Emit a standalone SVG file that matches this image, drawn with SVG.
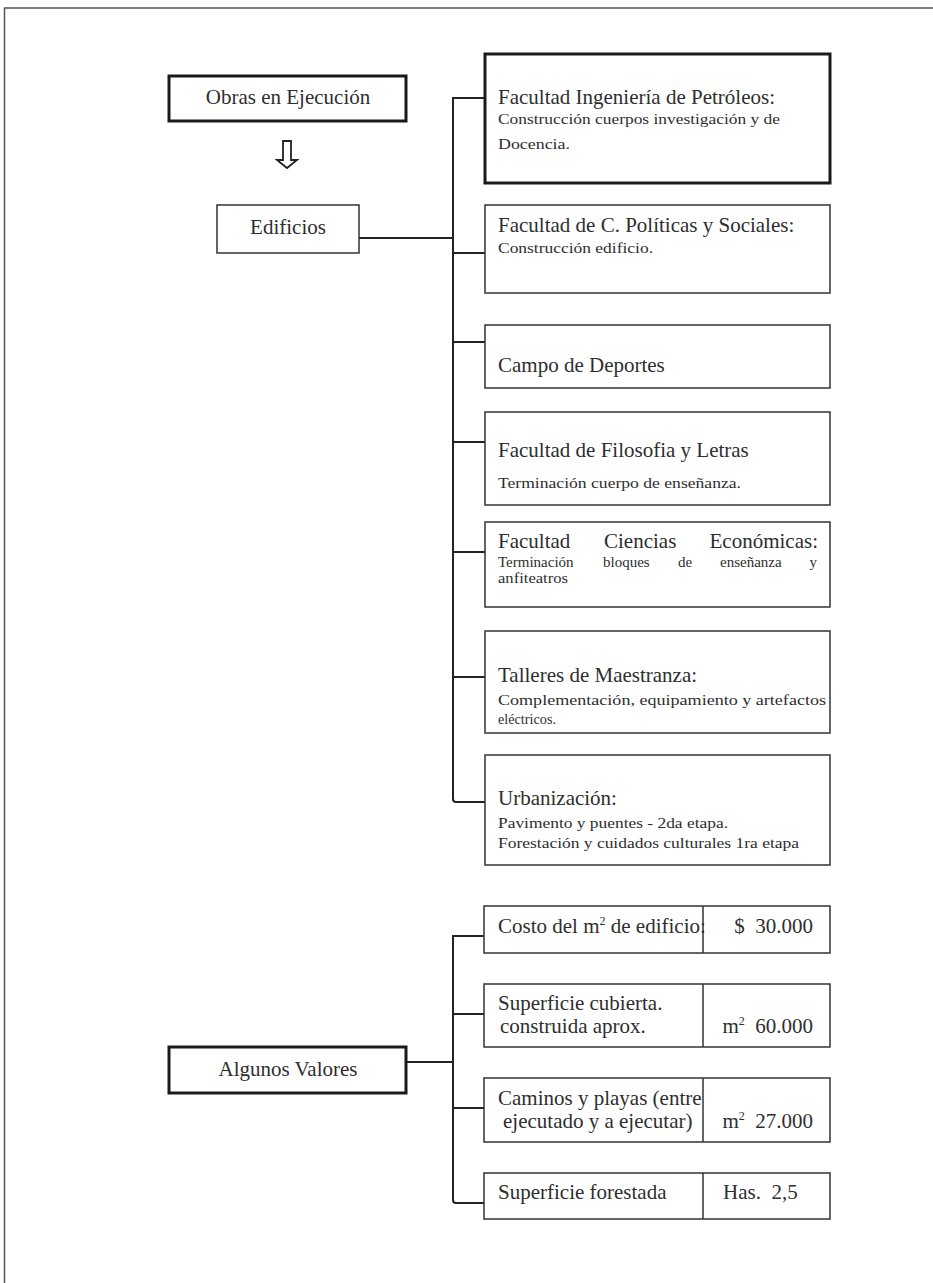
<svg xmlns="http://www.w3.org/2000/svg" width="933" height="1283" viewBox="0 0 933 1283" xml:space="preserve">
<style>
.t{font-family:"Liberation Serif","Times New Roman",serif;fill:#2e2e2e;white-space:pre}
.b{font-size:21px}
.s{font-size:15px}
.box{fill:#fff;stroke:#333;stroke-width:1.5}
.thick{fill:#fff;stroke:#1a1a1a;stroke-width:3}
.c{fill:none;stroke:#222;stroke-width:2}
.sup{font-size:12px}
</style>
<rect width="933" height="1283" fill="#fff"/>
<path d="M4.5 1283 V8 H933" fill="none" stroke="#555" stroke-width="1.5"/>

<g id="connectors">
<path class="c" d="M359 238 H453"/>
<path class="c" d="M485 98 H453 V799 Q453 802 456 802 H485"/>
<path class="c" d="M453 253 H485 M453 342 H485 M453 442 H485 M453 552 H485 M453 677 H485"/>
<path class="c" d="M407 1062 H453"/>
<path class="c" d="M484 936 H453 V1200 Q453 1203 456 1203 H484"/>
<path class="c" d="M453 1014 H484 M453 1108 H484"/>
</g>

<g id="obras">
<rect class="thick" x="169" y="76" width="237" height="45"/>
<text class="t b" x="288" y="104" text-anchor="middle">Obras en Ejecución</text>
</g>

<g id="arrow">
<path d="M283 141 H291 V160 H297 L287 168 L277 160 H283 Z" fill="#fff" stroke="#222" stroke-width="1.8"/>
</g>

<g id="edificios">
<rect class="box" x="217" y="205" width="142" height="48"/>
<text class="t b" x="288" y="234" text-anchor="middle">Edificios</text>
</g>

<g id="petroleos">
<rect class="thick" x="485" y="54" width="345" height="129"/>
<text class="t b" x="498" y="104">Facultad Ingeniería de Petróleos:</text>
<text class="t s" x="498" y="124" textLength="282" lengthAdjust="spacingAndGlyphs">Construcción cuerpos investigación y de</text>
<text class="t s" x="498" y="149" textLength="72" lengthAdjust="spacingAndGlyphs">Docencia.</text>
</g>

<g id="politicas">
<rect class="box" x="485" y="205" width="345" height="88"/>
<text class="t b" x="498" y="232">Facultad de C. Políticas y Sociales:</text>
<text class="t s" x="498" y="253" textLength="155" lengthAdjust="spacingAndGlyphs">Construcción edificio.</text>
</g>

<g id="deportes">
<rect class="box" x="485" y="325" width="345" height="63"/>
<text class="t b" x="498" y="372">Campo de Deportes</text>
</g>

<g id="filosofia">
<rect class="box" x="485" y="412" width="345" height="93"/>
<text class="t b" x="498" y="457">Facultad de Filosofia y Letras</text>
<text class="t s" x="498" y="488" textLength="243" lengthAdjust="spacingAndGlyphs">Terminación cuerpo de enseñanza.</text>
</g>

<g id="economicas">
<rect class="box" x="485" y="522" width="345" height="85"/>
<text class="t b" x="498" y="548">Facultad</text>
<text class="t b" x="604" y="548">Ciencias</text>
<text class="t b" x="818" y="548" text-anchor="end">Económicas:</text>
<text class="t s" x="498" y="567">Terminación</text>
<text class="t s" x="603" y="567">bloques</text>
<text class="t s" x="678" y="567">de</text>
<text class="t s" x="720" y="567">enseñanza</text>
<text class="t s" x="817" y="567" text-anchor="end">y</text>
<text class="t s" x="498" y="583" textLength="70" lengthAdjust="spacingAndGlyphs">anfiteatros</text>
</g>

<g id="talleres">
<rect class="box" x="485" y="631" width="345" height="102"/>
<text class="t b" x="498" y="682">Talleres de Maestranza:</text>
<text class="t s" x="498" y="705" textLength="328" lengthAdjust="spacingAndGlyphs">Complementación, equipamiento y artefactos</text>
<text class="t s" x="498" y="724" textLength="58" lengthAdjust="spacingAndGlyphs">eléctricos.</text>
</g>

<g id="urbanizacion">
<rect class="box" x="485" y="755" width="345" height="110"/>
<text class="t b" x="498" y="805">Urbanización:</text>
<text class="t s" x="498" y="828" textLength="230" lengthAdjust="spacingAndGlyphs">Pavimento y puentes - 2da etapa.</text>
<text class="t s" x="498" y="848" textLength="301" lengthAdjust="spacingAndGlyphs">Forestación y cuidados culturales 1ra etapa</text>
</g>

<g id="algunos">
<rect class="thick" x="169" y="1047" width="237" height="46"/>
<text class="t b" x="288" y="1076" text-anchor="middle">Algunos Valores</text>
</g>

<g id="costo">
<rect class="box" x="484" y="906" width="346" height="47"/>
<line x1="703" y1="906" x2="703" y2="953" stroke="#333" stroke-width="1.5"/>
<text class="t b" x="498" y="933">Costo del m<tspan class="sup" dy="-8">2</tspan><tspan dy="8"> de edificio:</tspan></text>
<text class="t b" x="813" y="933" text-anchor="end">$  30.000</text>
</g>

<g id="superficie">
<rect class="box" x="484" y="984" width="346" height="63"/>
<line x1="703" y1="984" x2="703" y2="1047" stroke="#333" stroke-width="1.5"/>
<text class="t b" x="498" y="1010">Superficie cubierta.</text>
<text class="t b" x="500" y="1033">construida aprox.</text>
<text class="t b" x="813" y="1033" text-anchor="end">m<tspan class="sup" dy="-8">2</tspan><tspan dy="8">  60.000</tspan></text>
</g>

<g id="caminos">
<rect class="box" x="484" y="1078" width="346" height="64"/>
<line x1="703" y1="1078" x2="703" y2="1142" stroke="#333" stroke-width="1.5"/>
<text class="t b" x="498" y="1105">Caminos y playas (entre</text>
<text class="t b" x="503" y="1128">ejecutado y a ejecutar)</text>
<text class="t b" x="813" y="1128" text-anchor="end">m<tspan class="sup" dy="-8">2</tspan><tspan dy="8">  27.000</tspan></text>
</g>

<g id="forestada">
<rect class="box" x="484" y="1173" width="346" height="46"/>
<line x1="703" y1="1173" x2="703" y2="1219" stroke="#333" stroke-width="1.5"/>
<text class="t b" x="498" y="1199">Superficie forestada</text>
<text class="t b" x="723" y="1199">Has.  2,5</text>
</g>
</svg>
